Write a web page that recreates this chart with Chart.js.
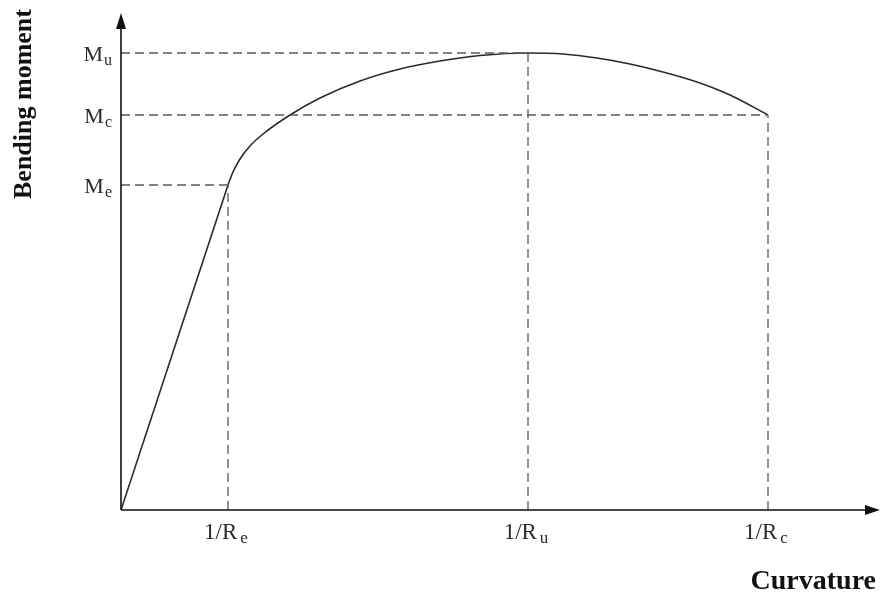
<!DOCTYPE html>
<html>
<head>
    <title>Bending moment - curvature</title>
    <script src="https://cdn.jsdelivr.net/npm/chart.js"></script>
    <style>
        html, body { margin: 0; padding: 0; background: #fff; }
        .wrap { width: 882px; height: 599px; position: relative; }
    </style>
</head>
<body>
    <div class="wrap">
        <canvas id="mk"></canvas>
    </div>

    <script>
        // curvature / moment values (arbitrary units)
        const elasticX = [0, 107];
        const elasticY = [0, 325];
        const plasticX = [107, 112, 119, 129, 142, 169, 199, 239, 279, 319, 359, 407, 442, 476, 509, 542, 576, 609, 647];
        const plasticY = [325, 338, 351, 364, 376, 395, 412, 429, 441, 449, 454.5, 457, 456, 452, 446, 438, 428, 415, 395];

        // named levels
        const curvTicks = [107, 407, 647];
        const curvSubs = ['e', 'u', 'c'];
        const momentTicks = [325, 395, 457];
        const momentSubs = ['e', 'c', 'u'];
        const momentGuideEnd = [107, 647, 407];
        const curvGuideTop = [325, 457, 395];

        const xMax = 759;
        const yMax = 497;

        const pts = (xs, ys) => xs.map((x, i) => ({ x: x, y: ys[i] }));

        const datasets = [];
        const dashStyle = { borderColor: '#5a5a5a', borderWidth: 1.3, borderDash: [9, 5], pointRadius: 0, tension: 0 };
        momentTicks.forEach((m, i) => {
            datasets.push(Object.assign({ data: [{ x: 0, y: m }, { x: momentGuideEnd[i], y: m }] }, dashStyle));
        });
        curvTicks.forEach((c, i) => {
            datasets.push(Object.assign({ data: [{ x: c, y: 0 }, { x: c, y: curvGuideTop[i] }] }, dashStyle));
        });
        datasets.push({ data: pts(elasticX, elasticY), borderColor: '#2a2a2a', borderWidth: 1.6, pointRadius: 0, tension: 0 });
        datasets.push({ data: pts(plasticX, plasticY), borderColor: '#2a2a2a', borderWidth: 1.6, pointRadius: 0, cubicInterpolationMode: 'monotone' });

        function subLabel(ctx, main, sub, x, y, size, subSize, align, gap) {
            ctx.font = size + 'px "Liberation Serif", "Times New Roman", serif';
            const w1 = ctx.measureText(main).width;
            ctx.font = subSize + 'px "Liberation Serif", "Times New Roman", serif';
            const w2 = ctx.measureText(sub).width;
            const total = w1 + gap + w2;
            let x0 = x;
            if (align === 'center') x0 = x - total / 2;
            if (align === 'right') x0 = x - total;
            ctx.textAlign = 'left';
            ctx.textBaseline = 'alphabetic';
            ctx.font = size + 'px "Liberation Serif", "Times New Roman", serif';
            ctx.fillText(main, x0, y);
            ctx.font = subSize + 'px "Liberation Serif", "Times New Roman", serif';
            ctx.fillText(sub, x0 + w1 + gap, y + 4);
        }

        const axesPlugin = {
            id: 'axesPlugin',
            afterDatasetsDraw(chart) {
                const ctx = chart.ctx;
                const xs = chart.scales.x, ys = chart.scales.y;
                const ox = xs.getPixelForValue(0), oy = ys.getPixelForValue(0);
                const xe = xs.getPixelForValue(xMax), ye = ys.getPixelForValue(yMax);
                ctx.save();
                ctx.strokeStyle = '#111';
                ctx.fillStyle = '#111';
                ctx.lineWidth = 1.6;
                ctx.beginPath();
                ctx.moveTo(ox, oy); ctx.lineTo(xe - 10, oy);
                ctx.moveTo(ox, oy); ctx.lineTo(ox, ye + 12);
                ctx.stroke();
                // arrow heads
                ctx.beginPath();
                ctx.moveTo(xe, oy); ctx.lineTo(xe - 15, oy - 5); ctx.lineTo(xe - 15, oy + 5); ctx.closePath();
                ctx.fill();
                ctx.beginPath();
                ctx.moveTo(ox, ye); ctx.lineTo(ox - 5, ye + 16); ctx.lineTo(ox + 5, ye + 16); ctx.closePath();
                ctx.fill();

                ctx.fillStyle = '#2b2b2b';
                momentTicks.forEach((m, i) => {
                    subLabel(ctx, 'M', momentSubs[i], ox - 9, ys.getPixelForValue(m) + 8, 22, 16, 'right', 1);
                });
                curvTicks.forEach((c, i) => {
                    subLabel(ctx, '1/R', curvSubs[i], xs.getPixelForValue(c) - 2, oy + 29, 23, 17, 'center', 3);
                });

                ctx.fillStyle = '#111';
                ctx.font = 'bold 28px "Liberation Serif", "Times New Roman", serif';
                ctx.textAlign = 'right';
                ctx.textBaseline = 'alphabetic';
                ctx.fillText('Curvature', 876, 589);
                ctx.font = 'bold 26px "Liberation Serif", "Times New Roman", serif';
                ctx.translate(31, 104);
                ctx.rotate(-Math.PI / 2);
                ctx.textAlign = 'center';
                ctx.fillText('Bending moment', 0, 0);
                ctx.restore();
            }
        };

        new Chart(document.getElementById('mk'), {
            type: 'line',
            data: { datasets: datasets },
            options: {
                responsive: true,
                maintainAspectRatio: false,
                animation: false,
                layout: { padding: { left: 121, top: 13, right: 2, bottom: 89 } },
                plugins: { legend: { display: false }, tooltip: { enabled: false } },
                scales: {
                    x: { type: 'linear', min: 0, max: xMax, display: false },
                    y: { type: 'linear', min: 0, max: yMax, display: false }
                }
            },
            plugins: [axesPlugin]
        });
    </script>
</body>
</html>
